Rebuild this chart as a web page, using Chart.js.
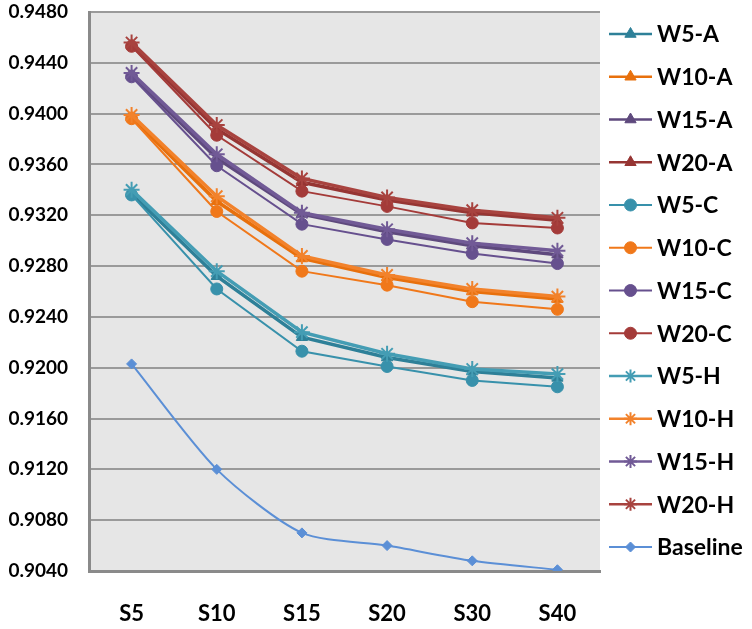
<!DOCTYPE html>
<html>
<head>
<meta charset="utf-8">
<script src="https://cdn.jsdelivr.net/npm/chart.js@4/dist/chart.umd.min.js"></script>
<style>
  html, body { margin: 0; padding: 0; background: #ffffff; }
  #wrap { width: 752px; height: 629px; position: relative; }
</style>
</head>
<body>
<div id="wrap"><canvas id="c" width="752" height="629"></canvas></div>
<script>
// Categories along the x axis
const categories = ['S5', 'S10', 'S15', 'S20', 'S30', 'S40'];

// Y axis range and step
const yMin = 0.9040;
const yMax = 0.9480;
const yStep = 0.0040;

// Series values
const w5A  = [0.9337, 0.9272, 0.9224, 0.9208, 0.9197, 0.9192];
const w10A = [0.9397, 0.9331, 0.9286, 0.9271, 0.9260, 0.9254];
const w15A = [0.9430, 0.9365, 0.9321, 0.9307, 0.9296, 0.9289];
const w20A = [0.9454, 0.9388, 0.9346, 0.9332, 0.9322, 0.9316];

const w5C  = [0.9336, 0.9262, 0.9213, 0.9201, 0.9190, 0.9185];
const w10C = [0.9396, 0.9323, 0.9276, 0.9265, 0.9252, 0.9246];
const w15C = [0.9429, 0.9359, 0.9313, 0.9301, 0.9290, 0.9282];
const w20C = [0.9453, 0.9383, 0.9339, 0.9327, 0.9314, 0.9310];

const w5H  = [0.9340, 0.9276, 0.9228, 0.9211, 0.9199, 0.9195];
const w10H = [0.9399, 0.9335, 0.9288, 0.9273, 0.9262, 0.9256];
const w15H = [0.9432, 0.9368, 0.9322, 0.9309, 0.9298, 0.9292];
const w20H = [0.9456, 0.9391, 0.9349, 0.9334, 0.9324, 0.9318];

const baseline = [0.9203, 0.9120, 0.9070, 0.9060, 0.9048, 0.9041];

const FONT = 'Lato, "Open Sans", "DejaVu Sans", sans-serif';

function series(label, data, color, style, radius, width, extra) {
  return Object.assign({
    label: label,
    data: data,
    borderColor: color,
    backgroundColor: color,
    pointBackgroundColor: color,
    pointBorderColor: color,
    pointStyle: style,
    pointRadius: radius,
    pointHoverRadius: radius,
    pointBorderWidth: style === 'star' ? 2 : 1,
    borderWidth: width,
    tension: 0,
    fill: false
  }, extra || {});
}

const datasets = [
  series('W5-A',  w5A,  '#2e8098', 'triangle', 6.5, 3.5),
  series('W10-A', w10A, '#e8700c', 'triangle', 6.5, 3.5),
  series('W15-A', w15A, '#5e497d', 'triangle', 6.5, 3.5),
  series('W20-A', w20A, '#963533', 'triangle', 6.5, 3.5),
  series('W5-C',  w5C,  '#3891ab', 'circle', 6, 2),
  series('W10-C', w10C, '#f0781a', 'circle', 6, 2),
  series('W15-C', w15C, '#66508e', 'circle', 6, 2),
  series('W20-C', w20C, '#a43b39', 'circle', 6, 2),
  series('W5-H',  w5H,  '#449db4', 'star', 8, 3.5),
  series('W10-H', w10H, '#f2822b', 'star', 8, 3.5),
  series('W15-H', w15H, '#715a96', 'star', 8, 3.5),
  series('W20-H', w20H, '#a8433f', 'star', 8, 3.5),
  series('Baseline', baseline, '#5b8fd6', 'rectRot', 5, 2, { tension: 0.25 })
];
// later series are painted over earlier ones
datasets.forEach((d, i) => { d.order = datasets.length - i; });

// grey plotting area
const plotBackground = {
  id: 'plotBackground',
  beforeDraw(chart) {
    const { ctx, chartArea: a } = chart;
    ctx.save();
    ctx.fillStyle = '#e6e6e6';
    ctx.fillRect(a.left, a.top, a.right - a.left, a.bottom - a.top);
    ctx.restore();
  }
};

// legend on the right: line sample with marker, then label
const sideLegend = {
  id: 'sideLegend',
  afterDraw(chart) {
    const ctx = chart.ctx;
    const x0 = 609, x1 = 652, tx = 657;
    const top = 34, step = 42.75;
    ctx.save();
    chart.data.datasets.forEach((d, i) => {
      const y = top + i * step;
      ctx.strokeStyle = d.borderColor;
      ctx.lineWidth = Math.min(d.borderWidth, 2.5);
      ctx.beginPath();
      ctx.moveTo(x0, y);
      ctx.lineTo(x1, y);
      ctx.stroke();
      ctx.fillStyle = d.pointBackgroundColor;
      ctx.strokeStyle = d.pointBorderColor;
      ctx.lineWidth = d.pointBorderWidth;
      Chart.helpers.drawPoint(ctx, {
        pointStyle: d.pointStyle,
        radius: Math.min(d.pointRadius, 6.5),
        borderWidth: d.pointBorderWidth,
        rotation: 0
      }, (x0 + x1) / 2, y);
      ctx.fillStyle = '#000000';
      ctx.font = 'bold 23px ' + FONT;
      ctx.textAlign = 'left';
      ctx.textBaseline = 'middle';
      ctx.fillText(d.label, tx, y + 1);
    });
    ctx.restore();
  }
};

new Chart(document.getElementById('c'), {
  type: 'line',
  data: { labels: categories, datasets: datasets },
  options: {
    responsive: false,
    animation: false,
    events: [],
    layout: { padding: { top: 3, right: 152, left: 0, bottom: 0 } },
    plugins: {
      legend: { display: false },
      tooltip: { enabled: false },
      title: { display: false }
    },
    scales: {
      x: {
        offset: true,
        grid: { display: false, drawTicks: false },
        border: { display: true, color: '#8a8a8a', width: 3 },
        ticks: {
          color: '#000000',
          padding: 30,
          font: { family: FONT, size: 22, weight: 'bold' }
        },
        afterFit(scale) { scale.height = 58; }
      },
      y: {
        min: yMin,
        max: yMax,
        grid: { color: '#9a9a9a', lineWidth: 2, drawTicks: false },
        border: { display: true, color: '#8a8a8a', width: 3 },
        ticks: {
          stepSize: yStep,
          color: '#000000',
          padding: 21,
          font: { family: FONT, size: 19, weight: 'bold' },
          callback: (v) => Number(v).toFixed(4)
        },
        afterFit(scale) {
          scale.width = 89;
          scale.paddingTop = 12;
          scale.paddingBottom = 12;
        }
      }
    }
  },
  plugins: [plotBackground, sideLegend]
});
</script>
</body>
</html>
